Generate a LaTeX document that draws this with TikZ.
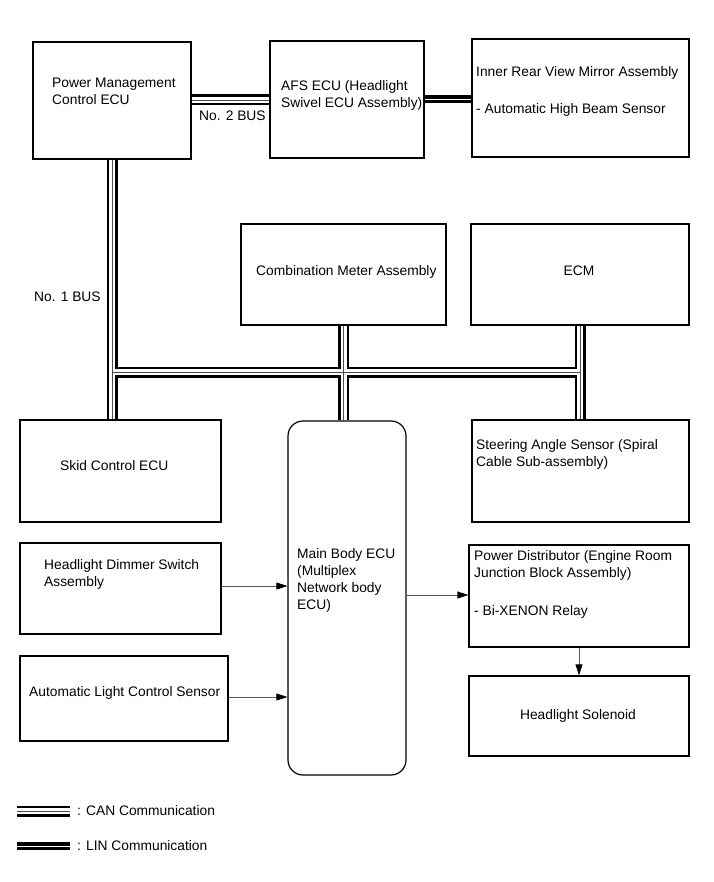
\documentclass[tikz,border=0pt]{standalone}
\usepackage{fontspec}
\setmainfont{Liberation Sans}
\usetikzlibrary{arrows.meta}
\tikzset{
  unit/.style={draw=black,line width=1.2pt,inner sep=0pt},
  lbl/.style={anchor=base west,inner sep=0pt,align=left},
  canbus/.style={draw=black!70,line width=0.9pt,preaction={draw=black,line width=11pt},
    preaction={draw=white,line width=6pt}},
  linbus/.style={draw=white,line width=0.9pt,preaction={draw=black,line width=8pt}},
  sig/.style={draw=black!65,line width=0.7pt,-{Triangle[length=11pt,width=7pt,color=black]}}
}
\begin{document}
\begin{tikzpicture}[x=1pt,y=-1pt,font=\fontsize{13.8}{17}\selectfont]
    \useasboundingbox (0,0) rectangle (713,882);
    % boxes
    \node[unit,minimum width=158pt,minimum height=117pt] (pmc) at (112,100.5){};
    \node[unit,minimum width=154pt,minimum height=117pt] (afs) at (347,99.5){};
    \node[unit,minimum width=217pt,minimum height=118pt] (irm) at (580.5,98){};
    \node[unit,minimum width=205pt,minimum height=101pt] (cma) at (343.5,274.5){};
    \node[unit,minimum width=218pt,minimum height=101pt] (ecm) at (580,274.5){};
    \node[unit,minimum width=201pt,minimum height=102pt] (skid) at (120.5,471){};
    \node[unit,rounded corners=15pt,minimum width=118pt,minimum height=354pt] (mbe) at (347,598){};
    \node[unit,minimum width=217pt,minimum height=102pt] (sas) at (580.5,471){};
    \node[unit,minimum width=201pt,minimum height=91pt] (hds) at (120.5,588.5){};
    \node[unit,minimum width=208pt,minimum height=85pt] (alcs) at (124,698.5){};
    \node[unit,minimum width=220pt,minimum height=102pt] (pd) at (579,596){};
    \node[unit,minimum width=220pt,minimum height=80pt] (hls) at (579,716){};
    % texts (base = last line)
    \node[lbl] (tpmc) at (52,105){Power Management\\Control ECU};
    \node[lbl] (tafs) at (281,108){AFS ECU (Headlight\\Swivel ECU Assembly)};
    \node[lbl] (tirm) at (476,77){Inner Rear View Mirror Assembly};
    \node[lbl] (tirm2) at (476,114){- Automatic High Beam Sensor};
    \node[lbl] (tcma) at (256,276){Combination Meter Assembly};
    \node[anchor=base,inner sep=0pt] (tecm) at (579,276){ECM};
    \node[lbl] (tskid) at (60,470){Skid Control ECU};
    \node[lbl] (tsas) at (476,466){Steering Angle Sensor (Spiral\\Cable Sub-assembly)};
    \node[lbl] (tmbe) at (297,609){Main Body ECU\\(Multiplex\\Network body\\ECU)};
    \node[lbl] (thds) at (44,586){Headlight Dimmer Switch\\Assembly};
    \node[lbl] (talcs) at (29,696){Automatic Light Control Sensor};
    \node[lbl] (tpd) at (474,577){Power Distributor (Engine Room\\Junction Block Assembly)};
    \node[lbl] (tpd2) at (474,615){- Bi-XENON Relay};
    \node[anchor=base,inner sep=0pt] (thls) at (578,719){Headlight Solenoid};
    \node[lbl] (tbus2) at (199,121){No. 2 BUS};
    \node[lbl] (tbus1) at (34,301){No. 1 BUS};
    % buses
    \coordinate (j1) at (pmc.south |- 0,372);
    \coordinate (j3) at (ecm.south |- 0,372);
    \draw[canbus] (pmc.south) -- (pmc.south |- skid.north)
      (j1) -- (j3)
      (cma.south) -- (cma.south |- mbe.north)
      (ecm.south) -- (ecm.south |- sas.north)
      (pmc.east |- 0,100) -- (afs.west |- 0,100);
    \draw[linbus] (afs.east |- 0,99) -- (irm.west |- 0,99);
    % signal lines
    \draw[sig] (hds.east |- 0,586) -- (mbe.west |- 0,586);
    \draw[sig] (alcs.east |- 0,697) -- (mbe.west |- 0,697);
    \draw[sig] (mbe.east |- 0,595) -- (pd.west |- 0,595);
    \draw[sig] (pd.south) -- (hls.north);
    % legend
    \coordinate (c1) at (17,811);
    \coordinate (c2) at (70,811);
    \coordinate (l1) at (17,846);
    \coordinate (l2) at (70,846);
    \draw[canbus] (c1) -- (c2);
    \draw[linbus] (l1) -- (l2);
    \node[lbl] (tcan) at (77,815){: CAN Communication};
    \node[lbl] (tlin) at (77,850){: LIN Communication};
  \end{tikzpicture}
\end{document}
